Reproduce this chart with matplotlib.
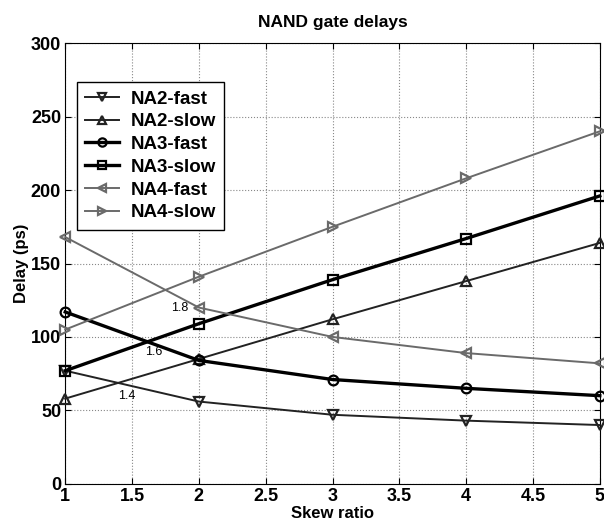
import numpy as np
import matplotlib
matplotlib.use('Agg')
import matplotlib.pyplot as plt

plt.rcParams['font.family'] = ['Liberation Sans', 'DejaVu Sans']
plt.rcParams['font.weight'] = 'bold'

skew = [1, 2, 3, 4, 5]
na2_fast = [77, 56, 47, 43, 40]
na2_slow = [58, 85, 112, 138, 164]
na3_fast = [117, 84, 71, 65, 60]
na3_slow = [77, 109, 139, 167, 196]
na4_fast = [168, 120, 100, 89, 82]
na4_slow = [105, 141, 175, 208, 240]

# crossing labels (text, x, y)
cross_text = ["1.4", "1.6", "1.8"]
cross_x = [1.46, 1.66, 1.86]
cross_y = [60, 90, 120]

fig = plt.figure(figsize=(6.04, 5.27), dpi=100)
ax = fig.add_axes([0.108, 0.082, 0.885, 0.836])

styles = [
    ("NA2-fast", na2_fast, 'v', '#222222', 1.4),
    ("NA2-slow", na2_slow, '^', '#222222', 1.4),
    ("NA3-fast", na3_fast, 'o', 'black', 2.4),
    ("NA3-slow", na3_slow, 's', 'black', 2.4),
    ("NA4-fast", na4_fast, '<', '#6a6a6a', 1.4),
    ("NA4-slow", na4_slow, '>', '#6a6a6a', 1.4),
]
for name, vals, mk, col, lw in styles:
    ax.plot(skew, vals, marker=mk, color=col, lw=lw, ms=7,
            mfc='none', mec=col, mew=1.6, label=name, clip_on=False, zorder=3)

for t, x, y in zip(cross_text, cross_x, cross_y):
    ax.text(x, y, t, ha='center', va='center', fontsize=9, fontweight='normal')

ax.set_xlim(1, 5)
ax.set_ylim(0, 300)
ax.set_xticks(np.arange(1, 5.01, 0.5))
ax.set_xticklabels(['1', '1.5', '2', '2.5', '3', '3.5', '4', '4.5', '5'])
ax.set_yticks(np.arange(0, 301, 50))
ax.tick_params(direction='in', top=True, right=True, labelsize=13, length=4, pad=3)
ax.grid(True, linestyle=':', color='#888888', lw=0.8)

ax.set_title("NAND gate delays", fontsize=12.5, fontweight='bold', pad=12)
ax.set_xlabel("Skew ratio", fontsize=12, fontweight='bold', labelpad=1)
ax.set_ylabel("Delay (ps)", fontsize=12, fontweight='bold', labelpad=1)

leg = ax.legend(loc='upper left', bbox_to_anchor=(0.022, 0.912), borderaxespad=0,
                fancybox=False, framealpha=1, edgecolor='black', fontsize=13.5,
                handlelength=1.8, labelspacing=0.3, borderpad=0.45, handletextpad=0.6,
                markerscale=0.85)
leg.get_frame().set_linewidth(1.0)
for t in leg.get_texts():
    t.set_fontweight('bold')

plt.savefig("out.png", dpi=100)
